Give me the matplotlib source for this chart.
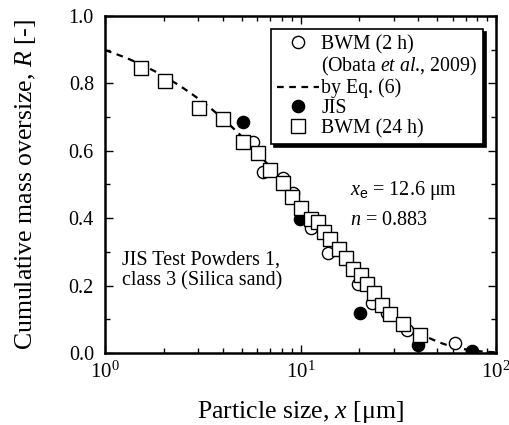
import numpy as np
import matplotlib
matplotlib.use("Agg")
import matplotlib.pyplot as plt
from matplotlib.lines import Line2D
from matplotlib.ticker import MultipleLocator

plt.rcParams['font.family'] = ['Liberation Serif', 'DejaVu Serif']
plt.rcParams['mathtext.fontset'] = 'custom'
plt.rcParams['mathtext.rm'] = 'Liberation Serif'
plt.rcParams['mathtext.it'] = 'Liberation Serif:italic'
plt.rcParams['mathtext.sf'] = 'Liberation Sans'

# BWM (24 h) - squares
sq_x = [1.52, 2.03, 3.04, 4.03, 5.06, 6.07, 7.02, 8.09, 9.01, 10.1, 11.3, 12.35,
        13.2, 14.2, 15.7, 17.1, 18.6, 20.3, 21.8, 23.7, 26.0, 28.8, 33.6, 40.9]
sq_R = [0.845, 0.807, 0.726, 0.694, 0.627, 0.594, 0.544, 0.505, 0.462, 0.429, 0.397, 0.390,
        0.358, 0.338, 0.308, 0.281, 0.250, 0.230, 0.205, 0.177, 0.142, 0.116, 0.086, 0.052]

# BWM (2 h) - open circles
ci_x = [5.74, 6.45, 8.14, 9.1, 11.25, 13.9, 19.6, 23.2, 27.6, 34.9, 61.7]
ci_R = [0.627, 0.538, 0.518, 0.474, 0.370, 0.298, 0.205, 0.147, 0.118, 0.068, 0.029]

# JIS - filled circles
jis_x = [5.06, 9.9, 20.2, 40.1, 75.1]
jis_R = [0.686, 0.398, 0.118, 0.024, 0.007]

# Eq. (6) parameters
x_e = 12.6
n_exp = 0.883

fig = plt.figure(figsize=(5.1, 4.25), dpi=100)
ax = fig.add_axes([0.206, 0.1694, 0.7665, 0.793])

xf = np.logspace(0, 2, 300)
ax.plot(xf, np.exp(-(xf / x_e) ** n_exp), ls=(0, (3, 2.5)), color='k', lw=1.6, zorder=1)
ax.plot(ci_x, ci_R, 'o', mfc='white', mec='k', mew=1.0, ms=8.8, ls='none', zorder=2)
ax.plot(jis_x, jis_R, 'o', mfc='k', mec='k', ms=8.8, ls='none', zorder=3)
ax.plot(sq_x, sq_R, 's', mfc='white', mec='k', mew=1.0, ms=9.6, ls='none', zorder=4)

ax.set_xscale('log')
ax.set_xlim(1, 100)
ax.set_ylim(0, 1.0)
ax.set_yticks([0, 0.2, 0.4, 0.6, 0.8, 1.0])
ax.set_yticklabels(['0.0', '0.2', '0.4', '0.6', '0.8', '1.0'])
ax.yaxis.set_minor_locator(MultipleLocator(0.1))
ax.tick_params(which='both', direction='in', top=True, right=True, width=1.0)
ax.tick_params(which='major', length=6)
ax.tick_params(which='minor', length=3.5)
ax.tick_params(axis='y', labelsize=14.5, pad=8)
ax.tick_params(axis='x', labelsize=15, pad=6)
for s in ax.spines.values():
    s.set_linewidth(1.8)

ax.set_xlabel(r'Particle size, $x$ [μm]', fontsize=18.5, labelpad=12)
ax.set_ylabel(r'Cumulative mass oversize, $R$ [-]', fontsize=18.5, labelpad=22)

ax.text(0.626, 0.47, r'$x_{\mathsf{e}}$ = 12.6 μm', transform=ax.transAxes, fontsize=14.5)
ax.text(0.626, 0.38, r'$n$ = 0.883', transform=ax.transAxes, fontsize=14.5)
ax.text(0.043, 0.2, 'JIS Test Powders 1,\nclass 3 (Silica sand)', transform=ax.transAxes,
        fontsize=14.5, linespacing=1.15)

handles = [
    Line2D([], [], marker='o', mfc='white', mec='k', ls='none', ms=8.8),
    Line2D([], [], ls='none'),
    Line2D([], [], color='k', ls=(0, (3, 2.5)), lw=1.6),
    Line2D([], [], marker='o', mfc='k', mec='k', ls='none', ms=8.8),
    Line2D([], [], marker='s', mfc='white', mec='k', ls='none', ms=9.6),
]
labels = ['BWM (2 h)', r'(Obata $et\ al$., 2009)', 'by Eq. (6)', 'JIS', 'BWM (24 h)']
leg = ax.legend(handles, labels, loc='upper right', fontsize=14.3, handlelength=2.1,
                handletextpad=0.1, labelspacing=0.04, borderpad=0.3, borderaxespad=0.65,
                fancybox=False, edgecolor='k', framealpha=1,
                shadow={'color': 'k', 'alpha': 1})
leg.get_frame().set_linewidth(1.2)

fig.savefig('out.png', dpi=100)
